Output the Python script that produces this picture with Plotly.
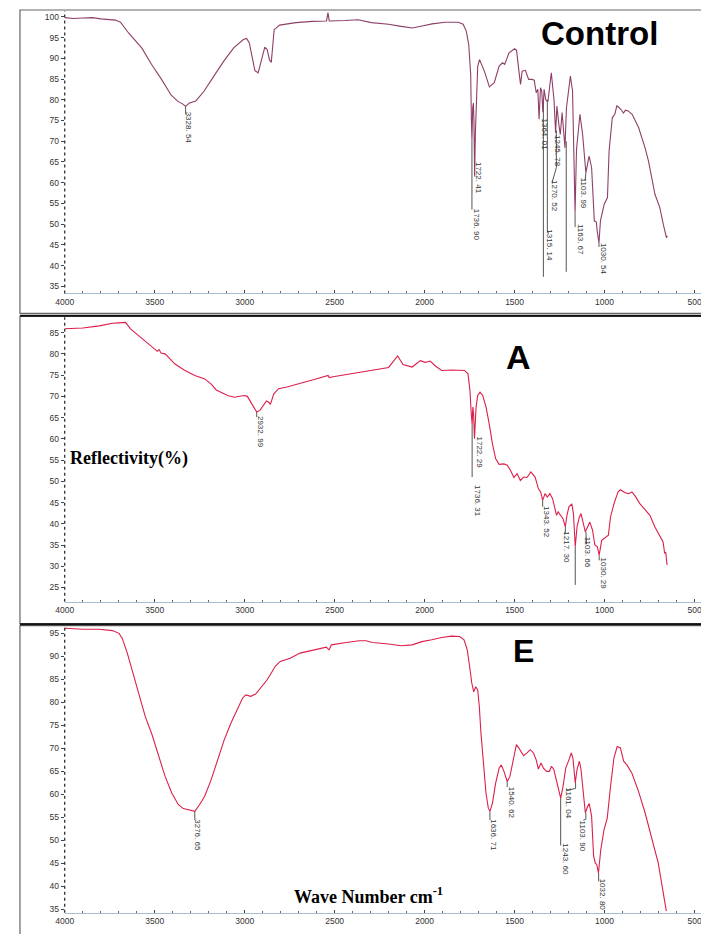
import plotly.graph_objects as go

# ---------------- data ----------------
ctrl_wn = [4000, 3950, 3900, 3845, 3800, 3750, 3718, 3690, 3645, 3572, 3517, 3462, 3408, 3371, 3345, 3328, 3307, 3271,
           3225, 3171, 3116, 3061, 3007, 2989, 2974, 2961, 2943, 2925, 2906, 2888, 2875, 2862, 2852, 2845, 2836, 2806,
           2715, 2624, 2545, 2537, 2530, 2442, 2369, 2296, 2200, 2130, 2069, 2014, 1959, 1886, 1813, 1786, 1768, 1755,
           1744, 1740, 1737, 1733, 1729, 1726, 1722, 1718, 1712, 1705, 1695, 1668, 1640, 1613, 1586, 1567, 1555, 1531,
           1500, 1489, 1476, 1467, 1458, 1440, 1422, 1403, 1391, 1380, 1371, 1364, 1356, 1349, 1343, 1336, 1327, 1315,
           1296, 1281, 1272, 1265, 1254, 1246, 1236, 1226, 1220, 1212, 1190, 1178, 1168, 1164, 1156, 1137, 1122, 1104,
           1086, 1072, 1057, 1046, 1040, 1031, 1023, 1002, 984, 975, 957, 943, 932, 924, 910, 895, 884, 869, 847, 811,
           775, 756, 720, 693, 674, 656, 652]
ctrl_t = [99.8, 99.6, 99.7, 99.8, 99.5, 99.3, 99.2, 98.7, 96.1, 92.5, 88.5, 84.9, 81.1, 79.6, 79.0, 78.4, 79.2, 79.7,
          82.1, 85.7, 89.3, 92.5, 94.5, 94.8, 93.7, 90.9, 87.0, 86.5, 89.7, 92.7, 92.1, 89.6, 89.0, 93.3, 96.9, 98.0,
          98.6, 98.9, 99.0, 101.0, 99.0, 99.1, 99.3, 98.6, 98.2, 97.7, 97.3, 97.8, 98.3, 98.7, 98.7, 98.2, 96.5, 93.3,
          86.1, 75.0, 70.4, 78.0, 79.2, 75.0, 61.5, 72.0, 82.0, 88.0, 89.7, 86.9, 83.1, 84.1, 88.1, 88.9, 88.5, 91.3,
          92.3, 91.9, 86.9, 83.7, 86.9, 87.1, 84.9, 84.9, 84.7, 81.7, 82.5, 75.3, 82.9, 82.1, 77.0, 82.5, 80.0, 79.5,
          86.5, 80.0, 72.0, 78.5, 74.0, 71.6, 76.9, 70.0, 68.4, 78.0, 85.7, 82.1, 60.0, 52.8, 68.0, 76.5, 71.6, 62.4,
          66.4, 63.6, 50.8, 50.5, 48.0, 45.5, 50.8, 54.8, 56.4, 67.6, 75.7, 76.5, 78.5, 78.3, 77.7, 76.8, 77.5, 77.3,
          76.5, 73.3, 68.4, 65.2, 57.2, 54.0, 50.0, 46.7, 47.2]

a_wn = [4000, 3899, 3808, 3735, 3700, 3680, 3662, 3634, 3588, 3533, 3485, 3475, 3465, 3442, 3387, 3332, 3277, 3222,
        3186, 3158, 3131, 3094, 3058, 3003, 2985, 2966, 2948, 2933, 2915, 2897, 2879, 2866, 2857, 2838, 2811, 2765,
        2710, 2619, 2536, 2530, 2509, 2436, 2363, 2289, 2200, 2150, 2120, 2069, 2024, 1996, 1969, 1942, 1905, 1851,
        1778, 1759, 1748, 1741, 1736, 1732, 1728, 1723, 1714, 1705, 1692, 1677, 1659, 1641, 1623, 1605, 1586, 1559,
        1541, 1523, 1504, 1486, 1468, 1450, 1431, 1410, 1386, 1368, 1355, 1344, 1331, 1318, 1304, 1289, 1276, 1267,
        1258, 1245, 1231, 1218, 1209, 1198, 1182, 1173, 1163, 1153, 1140, 1131, 1118, 1107, 1094, 1082, 1067, 1054,
        1040, 1030, 1016, 994, 979, 967, 948, 925, 912, 885, 866, 848, 830, 803, 775, 748, 721, 693, 675, 666, 660, 653]
a_t = [85.9, 86.1, 86.6, 87.2, 87.3, 87.4, 87.4, 85.9, 84.3, 82.3, 80.6, 81.0, 80.2, 80.0, 77.6, 76.1, 74.9, 74.1,
       72.9, 71.5, 71.0, 70.2, 69.8, 70.2, 70.0, 68.6, 67.5, 66.3, 66.7, 67.8, 68.9, 68.6, 68.1, 70.6, 71.8, 72.2,
       72.8, 73.9, 74.9, 74.4, 74.6, 75.1, 75.7, 76.1, 76.8, 79.5, 77.5, 76.9, 78.4, 78.0, 78.3, 77.2, 76.1, 76.2,
       76.1, 75.3, 71.4, 66.0, 63.5, 67.5, 65.9, 60.0, 67.5, 70.2, 71.0, 70.2, 67.5, 63.5, 58.8, 55.3, 54.0, 54.1,
       53.8, 52.6, 50.9, 51.8, 50.2, 51.0, 50.9, 52.2, 51.0, 48.3, 47.5, 45.5, 47.1, 46.3, 47.1, 45.9, 43.2, 42.0,
       42.8, 42.0, 41.2, 39.3, 42.0, 44.0, 44.7, 42.4, 34.6, 39.3, 41.6, 42.4, 40.4, 38.1, 39.3, 40.4, 38.5, 35.0,
       34.6, 32.6, 36.1, 36.9, 37.3, 41.6, 44.7, 47.5, 48.0, 47.3, 47.1, 47.5, 46.5, 44.7, 43.3, 42.0, 39.3, 36.9,
       35.7, 33.0, 33.3, 30.3]

e_wn = [4000, 3899, 3808, 3735, 3698, 3680, 3652, 3625, 3588, 3552, 3515, 3479, 3442, 3405, 3369, 3341, 3314, 3296,
        3277, 3250, 3222, 3186, 3149, 3113, 3076, 3040, 3012, 2994, 2966, 2939, 2911, 2875, 2847, 2829, 2802, 2747,
        2692, 2619, 2546, 2531, 2518, 2436, 2363, 2326, 2289, 2200, 2130, 2069, 2015, 1960, 1905, 1851, 1805, 1781,
        1763, 1750, 1738, 1727, 1716, 1705, 1696, 1687, 1672, 1659, 1646, 1637, 1623, 1605, 1586, 1574, 1559, 1541,
        1526, 1504, 1490, 1477, 1450, 1431, 1413, 1395, 1380, 1368, 1353, 1340, 1322, 1307, 1295, 1282, 1267, 1253,
        1244, 1231, 1216, 1198, 1185, 1176, 1163, 1153, 1140, 1131, 1118, 1107, 1094, 1085, 1072, 1061, 1052, 1043,
        1034, 1021, 1003, 985, 967, 948, 930, 912, 894, 876, 848, 812, 775, 739, 702, 680, 670, 657]
e_t = [96.1, 95.9, 95.9, 95.6, 95.0, 93.9, 90.7, 87.0, 82.0, 76.9, 73.0, 68.3, 63.9, 60.3, 57.8, 56.9, 56.7, 56.5,
       56.3, 57.8, 59.6, 63.2, 67.5, 71.9, 75.5, 78.7, 80.9, 81.6, 81.3, 81.8, 83.1, 84.9, 86.7, 87.9, 88.9, 89.6,
       90.7, 91.4, 92.0, 91.4, 92.5, 93.0, 93.4, 93.4, 93.0, 92.7, 92.3, 92.5, 93.2, 93.6, 94.1, 94.4, 94.3, 93.6,
       91.4, 87.8, 84.2, 82.3, 83.4, 82.7, 79.1, 73.3, 66.1, 60.3, 57.0, 56.3, 58.1, 62.5, 65.7, 66.4, 65.0, 62.8,
       63.9, 68.2, 70.8, 70.1, 68.4, 69.0, 69.7, 69.0, 67.5, 65.5, 66.8, 65.7, 65.0, 65.0, 66.1, 65.4, 62.8, 60.7,
       59.2, 61.7, 65.7, 67.5, 69.0, 67.9, 62.5, 65.4, 67.2, 65.4, 59.6, 56.0, 57.4, 58.0, 55.2, 46.6, 45.1, 44.7,
       42.9, 48.0, 52.3, 54.9, 61.7, 67.9, 70.4, 70.1, 67.2, 66.4, 64.6, 60.7, 56.0, 50.9, 45.1, 40.0, 37.2, 34.6]

# peak labels: text, x position (cm-1), y position (%)
ctrl_peak_text = ["3328. 54", "1736. 90", "1722. 41", "1364. 01", "1315. 14", "1270. 52", "1245. 78",
                  "1163. 67", "1103. 99", "1030. 54"]
ctrl_peak_x = [3310, 1713, 1697, 1334, 1306, 1279, 1258, 1137, 1116, 1005]
ctrl_peak_y = [73.3, 49.8, 61.1, 71.5, 45.0, 56.7, 67.6, 46.2, 57.4, 41.7]

a_peak_text = ["2932. 99", "1736. 31", "1722. 29", "1343. 52", "1217. 30", "1103. 66", "1030. 29"]
a_peak_x = [2911, 1710, 1696, 1322, 1213, 1098, 1007]
a_peak_y = [61.7, 45.4, 56.7, 40.5, 34.4, 33.2, 28.2]

e_peak_text = ["3276. 65", "1636. 71", "1540. 62", "1243. 60", "1161. 04", "1103. 90", "1032. 80"]
e_peak_x = [3259, 1614, 1513, 1218, 1198, 1122, 1012]
e_peak_y = [51.1, 51.1, 58.1, 45.8, 58.0, 50.9, 38.1]

# leader lines (None separates segments)
ctrl_lead_x = [3328, 3328, None, 1737, 1737, None, 1340, 1340, None, 1318, 1318, 1312, None,
               1268, 1268, 1292, None, 1213, 1213, None, 1164, 1164, None, 1104, 1108, None, 1031, 1031]
ctrl_lead_y = [78.4, 76.5, None, 70.4, 53.5, None, 80.5, 37.3, None, 80.0, 48.7, 47.7, None,
               72.6, 63.6, 60.0, None, 70.0, 38.5, None, 52.8, 49.3, None, 62.4, 60.5, None, 45.5, 44.5]
a_lead_x = [2933, 2933, None, 1736, 1736, None, 1344, 1344, None, 1218, 1218, None, 1163, 1163, None,
            1104, 1100, None, 1030, 1030]
a_lead_y = [66.3, 65.1, None, 63.5, 51.0, None, 45.5, 44.0, None, 39.3, 37.7, None, 34.6, 25.6, None,
            38.1, 35.2, None, 32.6, 31.4]
e_lead_x = [3277, 3277, None, 1637, 1637, None, 1541, 1541, None, 1244, 1244, None, 1161, 1161, 1212, None,
            1104, 1104, 1118, None, 1033, 1033]
e_lead_y = [56.3, 54.4, None, 56.3, 54.4, None, 62.8, 61.6, None, 59.2, 48.9, None, 62.5, 61.3, 60.8, None,
            56.0, 54.6, 54.4, None, 42.9, 41.1]

y_ranges = [[33.3, 101.4], [21.65, 88.6], [34.26, 96.45]]
panel_names = ["Control", "A", "E"]
line_colors = ["#8e3f68", "#dc1f4a", "#dc1f4a"]

# ---------------- figure ----------------
W, H = 709, 934
def px(x):
    return x / W
def py(y):
    return 1 - y / H

x_dom = [px(48.3), px(704.5)]
y_doms = [[py(286), py(3)], [py(595), py(310)], [py(906.7), py(620)]]

fig = go.Figure()
series = [(ctrl_wn, ctrl_t), (a_wn, a_t), (e_wn, e_t)]
leads = [(ctrl_lead_x, ctrl_lead_y), (a_lead_x, a_lead_y), (e_lead_x, e_lead_y)]
peaks = [(ctrl_peak_text, ctrl_peak_x, ctrl_peak_y), (a_peak_text, a_peak_x, a_peak_y),
         (e_peak_text, e_peak_x, e_peak_y)]

annotations = []
shapes = []
tickfont = dict(family="Liberation Sans, Arial, sans-serif", size=8.5, color="#333")

for i in range(3):
    sfx = "" if i == 0 else str(i + 1)
    xa, ya = "x" + sfx, "y" + sfx
    wn, t = series[i]
    assert len(wn) == len(t)
    lx, ly = leads[i]
    fig.add_trace(go.Scatter(x=lx, y=ly, mode="lines", line=dict(color="#555", width=1),
                             xaxis=xa, yaxis=ya, hoverinfo="skip", showlegend=False))
    fig.add_trace(go.Scatter(x=wn, y=t, mode="lines", line=dict(color=line_colors[i], width=1.1),
                             xaxis=xa, yaxis=ya, showlegend=False, name=panel_names[i]))
    fig.update_layout(**{
        "xaxis" + sfx: dict(domain=x_dom, range=[4000, 400], anchor=ya, showgrid=False, zeroline=False,
                            showline=True, linecolor="#a9bdd0", linewidth=1,
                            ticks="inside", ticklen=3, tickcolor="#444", tickwidth=1,
                            tickmode="array", tickvals=[4000, 3500, 3000, 2500, 2000, 1500, 1000, 500],
                            minor=dict(dtick=100, tick0=0, ticks="inside", ticklen=2, tickcolor="#666"),
                            tickfont=tickfont),
        "yaxis" + sfx: dict(domain=y_doms[i], range=y_ranges[i], anchor=xa, showgrid=False, zeroline=False,
                            showline=False, ticks="outside", ticklen=3, tickcolor="#444",
                            dtick=5, tick0=0, tickfont=tickfont),
    })
    shapes.append(dict(type="line", xref=xa + " domain", yref=ya + " domain", x0=0, x1=0, y0=0, y1=1,
                       line=dict(color="#333", width=1.3, dash="dot")))
    txt, xs, ys = peaks[i]
    for s, xv, yv in zip(txt, xs, ys):
        annotations.append(dict(text=s, x=xv, y=yv, xref=xa, yref=ya, showarrow=False, textangle=90,
                                font=dict(family="Liberation Sans, Arial, sans-serif", size=8, color="#333"),
                                xanchor="center", yanchor="middle"))

# panel frames
for (t0, t1) in [(2, 306), (309, 617), (619, 931)]:
    shapes.append(dict(type="rect", xref="paper", yref="paper", x0=px(3), x1=px(706), y0=py(t1), y1=py(t0),
                       line=dict(color="#666", width=1.2)))
for yy in [308.5, 617.5]:
    shapes.append(dict(type="line", xref="paper", yref="paper", x0=px(3), x1=px(706), y0=py(yy), y1=py(yy),
                       line=dict(color="#111", width=2)))

big = dict(family="Liberation Sans, Arial, sans-serif", color="#000")
annotations += [
    dict(text="<b>Control</b>", x=px(590), y=py(26), xref="paper", yref="paper", showarrow=False,
         font=dict(size=33, **big), xanchor="center", yanchor="middle"),
    dict(text="<b>A</b>", x=px(508), y=py(350), xref="paper", yref="paper", showarrow=False,
         font=dict(size=34, **big), xanchor="center", yanchor="middle"),
    dict(text="<b>E</b>", x=px(513), y=py(644), xref="paper", yref="paper", showarrow=False,
         font=dict(size=32, **big), xanchor="center", yanchor="middle"),
    dict(text="<b>Reflectivity(%)</b>", x=px(113), y=py(451), xref="paper", yref="paper", showarrow=False,
         font=dict(family="Liberation Serif, Times New Roman, serif", size=18, color="#000"),
         xanchor="center", yanchor="middle"),
    dict(text="<b>Wave Number cm<sup>-1</sup></b>", x=px(279), y=py(889), xref="paper", yref="paper",
         showarrow=False, font=dict(family="Liberation Serif, Times New Roman, serif", size=18, color="#000"),
         xanchor="left", yanchor="middle"),
]

fig.update_layout(width=W, height=H, margin=dict(l=0, r=0, t=0, b=0), paper_bgcolor="white",
                  plot_bgcolor="white", showlegend=False, annotations=annotations, shapes=shapes)

fig.write_html("out.html")
